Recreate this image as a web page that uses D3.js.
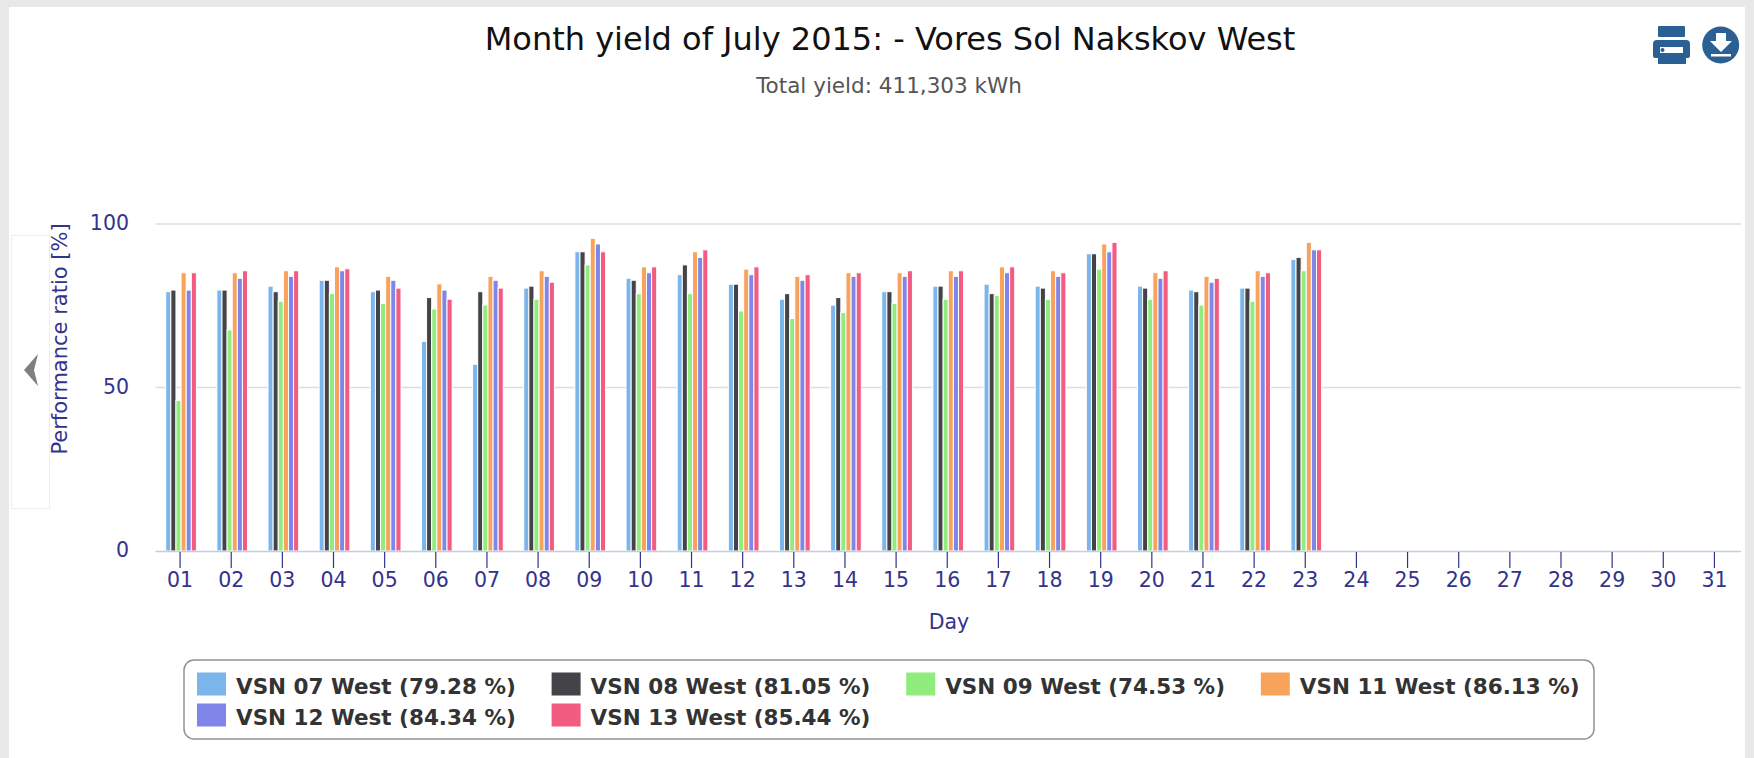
<!DOCTYPE html>
<html>
<head>
<meta charset="utf-8">
<script src="https://cdnjs.cloudflare.com/ajax/libs/d3/7.8.5/d3.min.js"></script>
<style>
html, body { margin: 0; padding: 0; background: #e8e8e8; overflow: hidden; }
text { font-family: "DejaVu Sans", sans-serif; }
.axis path { display: none; }
.axis text { fill: #33338c; font-size: 20.5px; }
</style>
</head>
<body>
<div id="chart"></div>
<script>
var days = ["01","02","03","04","05","06","07","08","09","10","11","12","13","14","15","16","17","18","19","20","21","22","23","24","25","26","27","28","29","30","31"];
var seriesNames = ["VSN 07 West", "VSN 08 West", "VSN 09 West", "VSN 11 West", "VSN 12 West", "VSN 13 West"];
var seriesAverages = ["79.28", "81.05", "74.53", "86.13", "84.34", "85.44"];
var seriesColors = ["#7cb5ec", "#434348", "#90ed7d", "#f7a35c", "#8085e9", "#f15c80"];

var vsn07 = [79.3,79.8,81,82.8,79.3,64.1,57.1,80.4,91.5,83.4,84.5,81.6,77,75.2,79.3,81,81.6,81,90.9,81,79.8,80.4,89.2];
var vsn08 = [79.8,79.8,79.3,82.8,79.8,77.5,79.3,81,91.5,82.8,87.5,81.6,78.7,77.5,79.3,81,78.7,80.4,90.9,80.4,79.3,80.4,89.8];
var vsn09 = [46,67.6,76.4,78.7,75.7,74,75.2,77,87.5,78.7,78.7,73.4,71.1,72.9,75.7,77,78.1,77,86.2,77,75.2,76.4,85.7];
var vsn11 = [85.1,85.1,85.7,86.9,84,81.7,84,85.7,95.6,86.9,91.5,86.2,84,85.1,85.1,85.7,86.9,85.7,93.9,85.1,84,85.7,94.4];
var vsn12 = [79.8,83.4,84,85.7,82.8,79.8,82.8,84,93.9,85.1,89.8,84.5,82.8,84,84,84,85.1,84,91.5,83.4,82.2,84,92.1];
var vsn13 = [85.1,85.7,85.7,86.3,80.4,77,80.4,82.2,91.5,86.9,92.1,86.9,84.5,85.1,85.7,85.7,86.9,85.1,94.4,85.7,83.4,85.1,92.1];
var seriesValues = [vsn07, vsn08, vsn09, vsn11, vsn12, vsn13];

var yTicks = [0, 50, 100];

var size = { width: 1754, height: 758, left: 155.5, right: 1741, top: 224, bottom: 551 };

var svg = d3.select("#chart")
  .append("svg")
  .attr("width", size.width)
  .attr("height", size.height)
  .style("display", "block");

// white panel inside the grey page
svg.append("rect")
  .attr("x", 9).attr("y", 7)
  .attr("width", 1736).attr("height", 751)
  .attr("fill", "#fff");

// collapsed side panel
svg.append("rect")
  .attr("x", 11.5).attr("y", 235.5)
  .attr("width", 38).attr("height", 273)
  .attr("fill", "#fff")
  .attr("stroke", "#eeeeee");
svg.append("path")
  .attr("d", "M38 354 L24 370 L38 386 L34 370 Z")
  .attr("fill", "#7f7f7f");

var xScale = d3.scaleBand().domain(days).range([size.left, size.right]);
var xSeries = d3.scaleBand()
  .domain(d3.range(seriesNames.length))
  .range([xScale.bandwidth() * 0.2, xScale.bandwidth() * 0.8]);
var yScale = d3.scaleLinear().domain([0, 100]).range([size.bottom, size.top]);

svg.append("g")
  .selectAll("line")
  .data(yTicks.slice(1))
  .enter()
  .append("line")
  .attr("x1", size.left)
  .attr("x2", size.right)
  .attr("y1", function (d) { return yScale(d); })
  .attr("y2", function (d) { return yScale(d); })
  .attr("stroke", "#dedede")
  .attr("stroke-width", 1.5);

var series = svg.selectAll("g.series")
  .data(seriesValues)
  .enter()
  .append("g")
  .attr("class", "series")
  .attr("fill", function (d, i) { return seriesColors[i]; })
  .attr("transform", function (d, i) { return "translate(" + xSeries(i) + ",0)"; });

series.selectAll("rect")
  .data(function (d) { return d; })
  .enter()
  .append("rect")
  .attr("x", function (d, i) { return xScale(days[i]); })
  .attr("y", function (d) { return yScale(d); })
  .attr("width", xSeries.bandwidth())
  .attr("height", function (d) { return size.bottom - yScale(d); })
  .attr("stroke", "#fff")
  .attr("stroke-width", 1);

// x axis
svg.append("line")
  .attr("x1", size.left).attr("x2", size.right)
  .attr("y1", size.bottom + 0.5).attr("y2", size.bottom + 0.5)
  .attr("stroke", "#c0d0e0")
  .attr("stroke-width", 1.5);

var xAxis = svg.append("g")
  .attr("class", "axis")
  .attr("transform", "translate(-1," + (size.bottom + 1) + ")")
  .call(d3.axisBottom(xScale).tickSize(16).tickPadding(4));
xAxis.selectAll("line").attr("stroke", "#33338c").attr("stroke-width", 1.2);

var yAxis = svg.append("g")
  .attr("class", "axis")
  .attr("transform", "translate(129,1.5)")
  .call(d3.axisLeft(yScale).tickValues(yTicks).tickSize(0).tickPadding(0));
yAxis.selectAll("text").attr("dy", "0.2em");

svg.append("text")
  .text("Day")
  .attr("x", 949).attr("y", 629)
  .attr("text-anchor", "middle")
  .attr("fill", "#33338c")
  .style("font-size", "20.5px");

svg.append("text")
  .text("Performance ratio [%]")
  .attr("transform", "translate(67,339) rotate(-90)")
  .attr("text-anchor", "middle")
  .attr("fill", "#33338c")
  .style("font-size", "21px");

// titles
svg.append("text")
  .text("Month yield of July 2015: - Vores Sol Nakskov West")
  .attr("x", 890).attr("y", 50)
  .attr("text-anchor", "middle")
  .attr("fill", "#111")
  .style("font-size", "32px");

svg.append("text")
  .text("Total yield: 411,303 kWh")
  .attr("x", 889).attr("y", 93)
  .attr("text-anchor", "middle")
  .attr("fill", "#555")
  .style("font-size", "21.5px");

// export icons
var icons = svg.append("g").attr("fill", "#2a6094");
icons.append("rect").attr("x", 1658).attr("y", 26).attr("width", 27).attr("height", 11).attr("rx", 1);
icons.append("path")
  .attr("fill-rule", "evenodd")
  .attr("d", "M1657 40 H1686 Q1690 40 1690 44 V56 Q1690 58 1688 58 H1686 V64 H1658 V58 H1655 Q1653 58 1653 56 V44 Q1653 40 1657 40 Z M1660 47 V53 H1683 V47 Z");
icons.append("circle").attr("cx", 1662.5).attr("cy", 50).attr("r", 2);
icons.append("circle").attr("cx", 1720.7).attr("cy", 45).attr("r", 18.5);
icons.append("path").attr("fill", "#fff").attr("d", "M1716 33 H1726 V41 H1732 L1721 52 L1710 41 H1716 Z");
icons.append("rect").attr("fill", "#fff").attr("x", 1711).attr("y", 54).attr("width", 20).attr("height", 2.5);

// legend
svg.append("rect")
  .attr("x", 184).attr("y", 660)
  .attr("width", 1410).attr("height", 79)
  .attr("rx", 10)
  .attr("fill", "#fff")
  .attr("stroke", "#929292")
  .attr("stroke-width", 1.5);

var legendItem = svg.selectAll("g.legend")
  .data(seriesNames)
  .enter()
  .append("g")
  .attr("class", "legend")
  .attr("transform", function (d, i) {
    return "translate(" + (197 + (i % 4) * 354.6) + "," + (672.5 + Math.floor(i / 4) * 31) + ")";
  });

legendItem.append("rect")
  .attr("width", 29)
  .attr("height", 23)
  .attr("fill", function (d, i) { return seriesColors[i]; });

legendItem.append("text")
  .text(function (d, i) { return d + " (" + seriesAverages[i] + " %)"; })
  .attr("x", 39)
  .attr("y", 21)
  .attr("fill", "#333")
  .style("font-size", "21.5px")
  .style("font-weight", "bold");
</script>
</body>
</html>
